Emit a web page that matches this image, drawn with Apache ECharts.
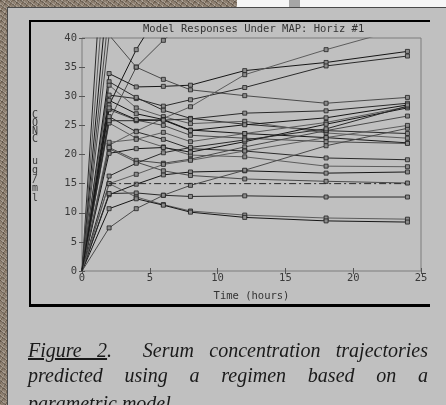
<!DOCTYPE html>
<html>
<head>
<meta charset="utf-8">
<script src="https://cdn.jsdelivr.net/npm/echarts@6/dist/echarts.min.js"></script>
<style>
html,body{margin:0;padding:0;width:446px;height:405px;overflow:hidden;}
body{position:relative;background:#8d7f70;
 background-image:
  repeating-linear-gradient(37deg, rgba(255,255,255,0.18) 0 1px, rgba(0,0,0,0) 1px 3px, rgba(0,0,0,0.2) 3px 4px),
  repeating-linear-gradient(-61deg, rgba(60,40,20,0.25) 0 1px, rgba(255,255,240,0.12) 1px 2px, rgba(0,0,0,0) 2px 5px);}
#white{position:absolute;left:237px;top:0;width:209px;height:8px;background:#f6f6f6;}
#bar{position:absolute;left:289px;top:0;width:11px;height:8px;background:#a6a6a6;}
#panel{position:absolute;left:7px;top:7px;right:0;bottom:0;background:#c0c0c0;border-top:1px solid #4a4a4a;border-left:1px solid #4a4a4a;}
#frame{position:absolute;left:29px;top:20px;width:399px;height:282px;border-top:2px solid #000;border-left:2px solid #000;border-bottom:3px solid #000;}
#chart{position:absolute;left:0;top:0;width:446px;height:405px;}
#cap{position:absolute;left:28px;top:338px;width:400px;font-family:"Liberation Serif","Times New Roman",serif;font-style:italic;font-size:20px;line-height:25px;color:#1a1a1a;}
#cap div{white-space:nowrap;}
#cap .j{text-align:justify;text-align-last:justify;}
#cap .l3{margin-top:3px;}
#cap u{text-decoration:underline;}
</style>
</head>
<body>
<div id="white"></div><div id="bar"></div>
<div id="panel"></div>
<div id="frame"></div>
<div id="chart"></div>
<div id="cap">
 <div class="j"><u>Figure 2</u>.&nbsp; Serum concentration trajectories</div>
 <div class="j">predicted using a regimen based on a</div>
 <div class="l3">parametric model.</div>
</div>
<script>
// ---- data ----
const times = [0, 2, 4, 6, 8, 12, 18, 24];
const xTicks = [0, 5, 10, 15, 20, 25];
const yTicks = [0, 5, 10, 15, 20, 25, 30, 35, 40];
const titleText = 'Model Responses Under MAP: Horiz #1';
const xName = 'Time (hours)';
const yName1 = 'CONC';
const yName2 = 'ug/ml';
const targetLevel = 15;
const targetSpan = [2, 24];

const s1  = [0, 33.9, 31.6, 31.7, 31.9, 34.4, 35.8, 37.7];
const s2  = [0, 40.5, 35.0, 32.9, 31.1, 30.1, 28.8, 29.8];
const s3  = [0, 30.2, 29.6, 28.3, 29.4, 31.5, 35.2, 36.9];
const s4  = [0, 21.6, 24.0, 26.2, 28.2, 33.7, 38.0, 41.9];
const s5  = [0, 28.5, 38.0, 45.5, 50.0, 53.0, 55.0, 56.0];
const s6  = [0, 25.8, 35.0, 39.6, 43.5, 47.0, 49.0, 50.0];
const s7  = [0, 72.0, 78.0, 80.0, 81.0, 82.0, 82.0, 82.0];
const s8  = [0, 60.0, 65.0, 67.0, 68.0, 69.0, 69.0, 69.0];
const s9  = [0, 51.0, 55.0, 57.0, 58.0, 59.0, 59.0, 59.0];
const s10 = [0, 45.0, 49.0, 51.0, 52.0, 53.0, 53.0, 53.0];
const s11 = [0, 32.5, 29.8, 27.6, 26.2, 25.2, 24.1, 23.6];
const s12 = [0, 31.9, 28.0, 26.5, 25.3, 25.7, 23.7, 22.8];
const s13 = [0, 29.3, 27.0, 26.0, 24.2, 23.6, 22.9, 22.0];
const s14 = [0, 27.7, 25.9, 25.0, 23.3, 22.8, 22.2, 21.9];
const s15 = [0, 26.5, 23.9, 22.6, 21.0, 20.6, 19.4, 19.1];
const s16 = [0, 25.4, 22.8, 21.3, 19.9, 19.6, 18.0, 17.9];
const s17 = [0, 13.1, 14.9, 16.5, 17.0, 17.2, 16.8, 17.0];
const s18 = [0, 21.0, 18.7, 17.2, 16.4, 15.8, 15.4, 15.1];
const s19 = [0, 13.3, 13.4, 13.0, 12.8, 12.9, 12.7, 12.7];
const s20 = [0, 15.0, 12.7, 11.4, 10.3, 9.6, 9.1, 8.9];
const s21 = [0, 10.7, 12.4, 11.3, 10.1, 9.2, 8.6, 8.4];
const s22 = [0, 7.4, 10.7, 13.0, 14.7, 17.3, 21.5, 24.5];
const s23 = [0, 25.8, 25.8, 25.9, 26.1, 27.1, 27.5, 28.8];
const s24 = [0, 22.1, 22.6, 23.8, 22.2, 23.6, 25.5, 28.2];
const s25 = [0, 20.2, 21.0, 21.2, 20.4, 22.2, 25.2, 28.0];
const s26 = [0, 21.2, 19.0, 18.5, 19.2, 21.3, 24.1, 26.6];
const s27 = [0, 16.3, 18.5, 20.3, 21.2, 22.5, 24.4, 28.3];
const s28 = [0, 15.0, 16.6, 18.3, 19.0, 20.6, 22.9, 25.0];
const s29 = [0, 28.0, 26.0, 25.9, 24.1, 25.1, 26.3, 28.5];

const trajectories = [s1,s2,s3,s4,s5,s6,s7,s8,s9,s10,s11,s12,s13,s14,s15,s16,s17,s18,s19,s20,s21,s22,s23,s24,s25,s26,s27,s28,s29];
const lineShades = ['#161616', '#4a4a4a', '#2a2a2a', '#5c5c5c'];

// ---- chart ----
const chart = echarts.init(document.getElementById('chart'), null, {renderer: 'canvas'});
const font = '"DejaVu Sans Mono", monospace';

const series = trajectories.map((vals, k) => ({
  type: 'line',
  data: vals.map((v, i) => i === 0 ? {value: [times[i], v], symbol: 'none'} : [times[i], v]),
  symbol: 'rect',
  symbolSize: 4,
  clip: true,
  silent: true,
  lineStyle: {width: 1, color: lineShades[k % lineShades.length]},
  itemStyle: {color: '#8c8c8c', borderColor: '#202020', borderWidth: 0.8},
  z: 3
}));
series.push({
  type: 'line',
  data: targetSpan.map(t => [t, targetLevel]),
  symbol: 'none',
  silent: true,
  lineStyle: {width: 1, color: '#2a2a2a', type: [7, 3, 2, 3]},
  z: 4
});

const xInt = xTicks[1] - xTicks[0];
const yInt = yTicks[1] - yTicks[0];
const axLabel = {fontFamily: font, fontSize: 10.5, color: '#3a3a3a'};

chart.setOption({
  backgroundColor: 'transparent',
  animation: false,
  title: {
    text: titleText, left: 138, top: 19,
    textStyle: {fontFamily: font, fontSize: 10.5, fontWeight: 'normal', color: '#333'}
  },
  grid: {left: 82, top: 38, width: 339, height: 233, show: true, borderColor: '#7c7c7c', borderWidth: 1, backgroundColor: 'transparent'},
  xAxis: [{
    type: 'value', min: xTicks[0], max: xTicks[xTicks.length - 1], interval: xInt,
    axisLine: {show: false}, splitLine: {show: false},
    axisTick: {inside: true, length: 3, lineStyle: {color: '#555'}},
    axisLabel: Object.assign({margin: 2}, axLabel),
    name: xName, nameLocation: 'middle', nameGap: 20,
    nameTextStyle: {fontFamily: font, fontSize: 10.5, color: '#333'}
  }, {
    type: 'value', position: 'top', min: xTicks[0], max: xTicks[xTicks.length - 1], interval: xInt,
    axisLine: {show: false}, splitLine: {show: false}, axisLabel: {show: false},
    axisTick: {inside: true, length: 3, lineStyle: {color: '#555'}}
  }],
  yAxis: [{
    type: 'value', min: yTicks[0], max: yTicks[yTicks.length - 1], interval: yInt,
    axisLine: {show: false}, splitLine: {show: false},
    axisTick: {inside: true, length: 3, lineStyle: {color: '#555'}},
    axisLabel: Object.assign({margin: 5}, axLabel)
  }, {
    type: 'value', position: 'right', min: yTicks[0], max: yTicks[yTicks.length - 1], interval: yInt,
    axisLine: {show: false}, splitLine: {show: false}, axisLabel: {show: false},
    axisTick: {inside: true, length: 3, lineStyle: {color: '#555'}}
  }],
  graphic: [
    {type: 'text', x: 35, y: 111, silent: true,
     style: {text: yName1.split('').join('\n'), align: 'center', lineHeight: 8.2, font: '10px ' + font, fill: '#3a3a3a'}},
    {type: 'text', x: 35, y: 157, silent: true,
     style: {text: yName2.split('').join('\n'), align: 'center', lineHeight: 9.1, font: '10px ' + font, fill: '#3a3a3a'}}
  ],
  series: series
});
</script>
</body>
</html>
